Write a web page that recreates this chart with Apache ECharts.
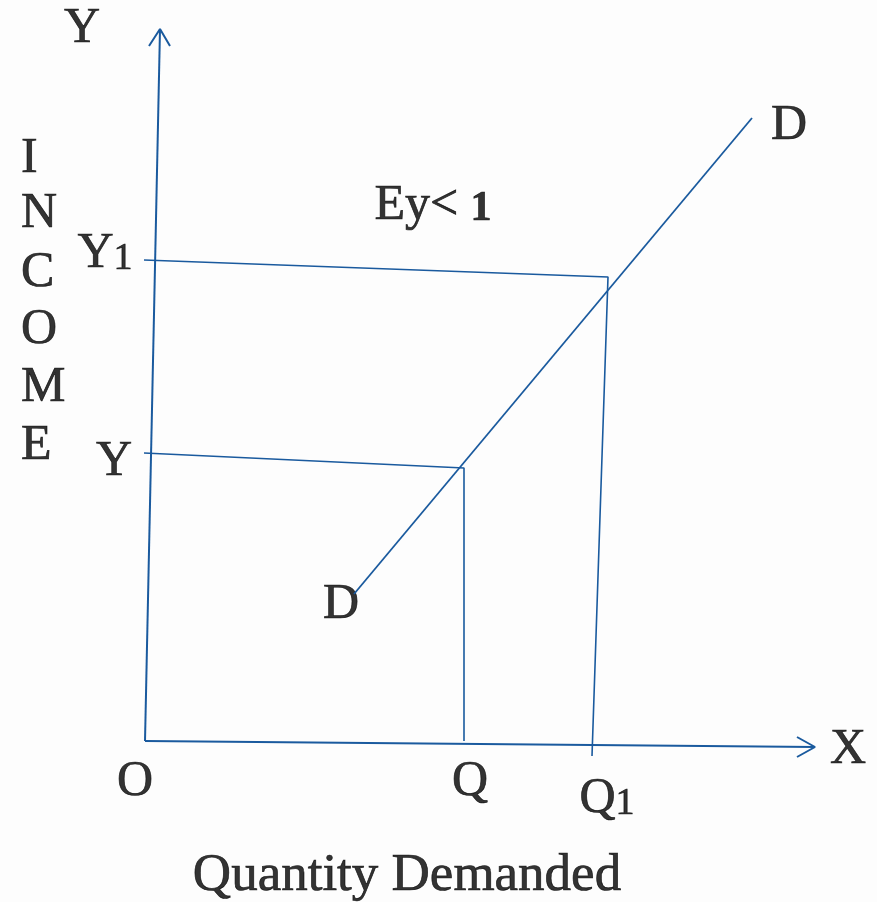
<!DOCTYPE html>
<html>
<head>
<meta charset="utf-8">
<title>Income elasticity Ey &lt; 1</title>
<script src="https://cdn.jsdelivr.net/npm/echarts@6/dist/echarts.min.js"></script>
<style>
  html, body { margin: 0; padding: 0; background: #fdfdfd; }
  #chart { width: 877px; height: 902px; }
</style>
</head>
<body>
<div id="chart"></div>
<script>
// drawing space runs 0..877 across and 0..902 down, like the slide
const yAxisLine = [[145, 741], [160, 29]];
const yArrowHead = [[149, 46], [160, 29], [170, 46]];
const xAxisLine = [[145, 741], [815, 747]];
const xArrowHead = [[797, 737], [815, 747], [797, 757]];
const incomeY1Line = [[144, 260], [608, 277], [592, 756]];
const incomeYLine = [[144, 453], [464, 468], [464, 741]];
const demandLine = [[354, 594], [752, 118]];

// letters of the vertical axis title
const incomeLetters = ['I', 'N', 'C', 'O', 'M', 'E'];
const incomeLetterY = [159, 214, 273, 330, 388, 446];

// point labels: [x, y, text]
const pointLabels = [
  [82, 29, 'Y'],
  [114, 462, 'Y'],
  [789, 126, 'D'],
  [341, 605, 'D'],
  [135, 782, 'O'],
  [470, 782, 'Q'],
  [848, 750, 'X']
];
const subLabels = [
  [105, 254, 'Y', '1'],
  [607, 799, 'Q', '1']
];
const elasticityLabel = [433, 206, 'Ey< ', '1'];
const xTitle = [407, 876, 'Quantity Demanded'];

const lineColor = '#1a5a9e';
const serif = '"Liberation Serif", "DejaVu Serif", serif';

const chart = echarts.init(document.getElementById('chart'));

const lineSeries = (data, width) => ({
  type: 'line',
  data,
  symbol: 'none',
  silent: true,
  lineStyle: { color: lineColor, width: width || 2 },
  animation: false
});

// a thin black outline gives the glyphs the weight of the slide font
const ink = { color: '#000', textBorderColor: '#000', textBorderWidth: 0.7 };
const rich = {
  a: { fontFamily: serif, fontSize: 50, ...ink },
  b: { fontFamily: serif, fontSize: 38, padding: [10, 0, 0, 0], ...ink },
  c: { fontFamily: serif, fontSize: 42, fontWeight: 'bold', padding: [6, 0, 0, 0], ...ink }
};

chart.setOption({
  backgroundColor: '#fdfdfd',
  animation: false,
  grid: { left: 0, right: 0, top: 0, bottom: 0 },
  xAxis: { type: 'value', min: 0, max: 877, show: false },
  yAxis: { type: 'value', min: 0, max: 902, inverse: true, show: false },
  series: [
    lineSeries(yAxisLine),
    lineSeries(yArrowHead),
    lineSeries(xAxisLine),
    lineSeries(xArrowHead),
    lineSeries(incomeY1Line, 1.6),
    lineSeries(incomeYLine, 1.6),
    lineSeries(demandLine, 1.8),
    {
      type: 'scatter',
      symbolSize: 1,
      itemStyle: { color: 'rgba(0,0,0,0)' },
      silent: true,
      label: {
        show: true,
        position: 'inside',
        color: '#000',
        fontFamily: serif,
        fontSize: 50,
        formatter: p => p.data.text,
        rich
      },
      data: [
        ...incomeLetters.map((t, i) => ({
          value: [21, incomeLetterY[i]],
          text: '{a|' + t + '}',
          label: { align: 'left' }
        })),
        ...pointLabels.map(d => ({ value: [d[0], d[1]], text: '{a|' + d[2] + '}' })),
        ...subLabels.map(d => ({
          value: [d[0], d[1]],
          text: '{a|' + d[2] + '}{b|' + d[3] + '}'
        })),
        {
          value: [elasticityLabel[0], elasticityLabel[1]],
          text: '{a|' + elasticityLabel[2] + '}{c|' + elasticityLabel[3] + '}'
        },
        {
          value: [xTitle[0], xTitle[1]],
          text: '{a|' + xTitle[2] + '}',
          label: { rich: { a: { fontFamily: serif, fontSize: 53, ...ink } } }
        }
      ]
    }
  ]
});
</script>
</body>
</html>
